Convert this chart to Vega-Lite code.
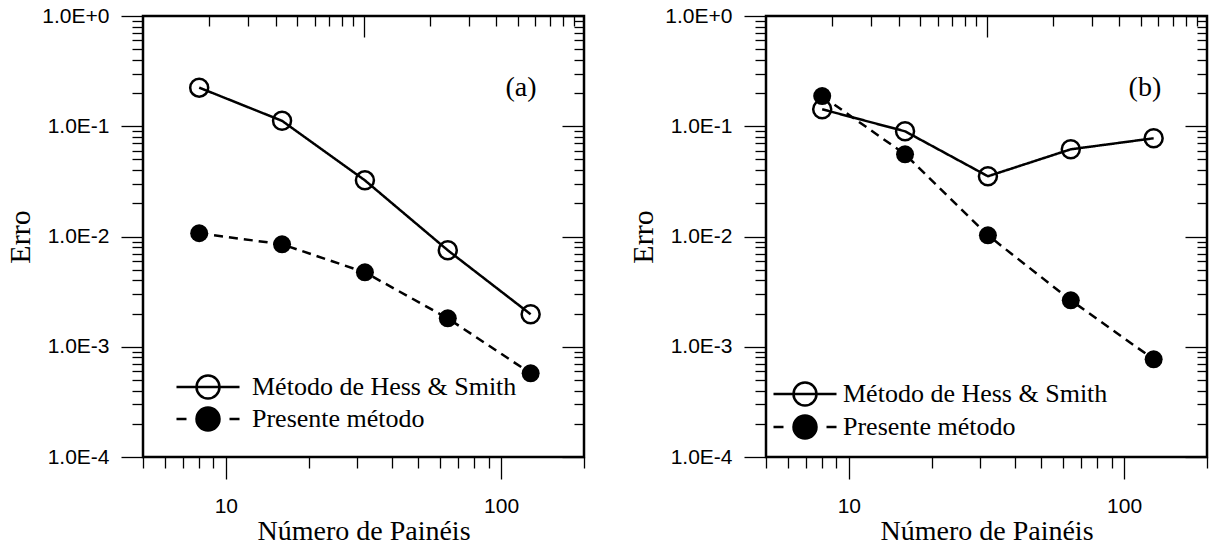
{
  "$schema": "https://vega.github.io/schema/vega-lite/v6.json",
  "padding": {"left": 4, "top": 3, "right": 2, "bottom": 0},
  "config": {
    "view": {"stroke": "black", "strokeWidth": 2.5},
    "axis": {"domain": false, "grid": false, "tickColor": "black", "tickWidth": 1.3, "labelFont": "Liberation Sans", "labelFontSize": 21, "labelColor": "black", "titleFont": "Liberation Serif", "titleFontWeight": "normal", "titleColor": "black"},
    "concat": {"spacing": 41}
  },
  "resolve": {"scale": {"fill": "independent", "shape": "independent", "strokeDash": "independent"}, "legend": {"fill": "independent", "shape": "independent"}},
  "hconcat": [
    {
      "width": 441, "height": 441,
      "data": {"values": [
        {"n": 8, "erro": 0.224, "serie": "Método de Hess & Smith"},
        {"n": 16, "erro": 0.112, "serie": "Método de Hess & Smith"},
        {"n": 32, "erro": 0.0323, "serie": "Método de Hess & Smith"},
        {"n": 64, "erro": 0.0075, "serie": "Método de Hess & Smith"},
        {"n": 128, "erro": 0.00197, "serie": "Método de Hess & Smith"},
        {"n": 8, "erro": 0.0107, "serie": "Presente método"},
        {"n": 16, "erro": 0.0085, "serie": "Presente método"},
        {"n": 32, "erro": 0.00473, "serie": "Presente método"},
        {"n": 64, "erro": 0.00181, "serie": "Presente método"},
        {"n": 128, "erro": 0.000574, "serie": "Presente método"}
      ]},
      "resolve": {"scale": {"x": "independent", "y": "shared"}, "axis": {"x": "independent", "y": "independent"}},
      "layer": [
        {
          "mark": {"type": "line", "color": "black", "strokeWidth": 2.5},
          "encoding": {
            "x": {"field": "n", "type": "quantitative", "scale": {"type": "log", "domain": [5, 200]}, "axis": {"orient": "bottom", "values": [10, 100], "format": "d", "tickSize": 22, "labelPadding": 16, "title": "Número de Painéis", "titleFontSize": 28, "titlePadding": 1}},
            "y": {"field": "erro", "type": "quantitative", "scale": {"type": "log", "domain": [0.0001, 1]}, "axis": {"orient": "left", "values": [0.0001, 0.001, 0.01, 0.1, 1], "labelExpr": "upper(format(datum.value, '.1e'))", "tickSize": 22, "labelPadding": 12, "title": "Erro", "titleFontSize": 30, "titlePadding": 6}},
            "strokeDash": {"field": "serie", "type": "nominal", "scale": {"domain": ["Presente método", "Método de Hess & Smith"], "range": [[9, 6], [1, 0]]}, "legend": null}
          }
        },
        {
          "transform": [{"filter": "datum.serie === 'Método de Hess & Smith'"}],
          "mark": {"type": "point", "filled": false, "size": 324, "color": "black", "strokeWidth": 2.5, "opacity": 1},
          "encoding": {
            "x": {"field": "n", "type": "quantitative", "scale": {"type": "log", "domain": [5, 200]}, "axis": {"orient": "bottom", "values": [5, 6, 7, 8, 9, 20, 30, 40, 50, 60, 70, 80, 90, 200], "tickSize": 11, "labels": false, "title": null}},
            "y": {"field": "erro", "type": "quantitative", "scale": {"type": "log", "domain": [0.0001, 1]}, "axis": {"orient": "left", "values": [0.0002, 0.0003, 0.0004, 0.0005, 0.0006, 0.0007, 0.0008, 0.0009, 0.002, 0.003, 0.004, 0.005, 0.006, 0.007, 0.008, 0.009, 0.02, 0.03, 0.04, 0.05, 0.06, 0.07, 0.08, 0.09, 0.2, 0.3, 0.4, 0.5, 0.6, 0.7, 0.8, 0.9], "tickSize": 11, "labels": false, "title": null}}
          }
        },
        {
          "transform": [{"filter": "datum.serie === 'Presente método'"}],
          "mark": {"type": "point", "filled": true, "size": 324, "color": "black", "opacity": 1},
          "encoding": {
            "x": {"field": "n", "type": "quantitative", "scale": {"type": "log", "domain": [5, 200]}, "axis": null},
            "y": {"field": "erro", "type": "quantitative", "scale": {"type": "log", "domain": [0.0001, 1]}, "axis": null}
          }
        },
        {
          "mark": {"type": "point", "filled": true, "size": 324, "stroke": "black", "strokeWidth": 2.5, "opacity": 0},
          "encoding": {
            "x": {"field": "n", "type": "quantitative", "scale": {"type": "log", "domain": [5, 200]}, "axis": null},
            "y": {"field": "erro", "type": "quantitative", "scale": {"type": "log", "domain": [0.0001, 1]}, "axis": null},
            "fill": {"field": "serie", "type": "nominal", "scale": {"domain": ["Método de Hess & Smith", "Presente método"], "range": ["transparent", "black"]}, "legend": {
              "orient": "none", "legendX": 52, "legendY": 358, "title": null, "symbolSize": 529, "symbolStrokeWidth": 2.5, "symbolOpacity": 1, "labelFont": "Liberation Serif", "labelFontSize": 26, "labelColor": "black", "labelLimit": 500, "labelOffset": 31, "rowPadding": -2, "padding": 0}},
            "shape": {"field": "serie", "type": "nominal", "scale": {"domain": ["Método de Hess & Smith", "Presente método"], "range": ["M -2.74 0 H 2.74 M -1 0 A 1 1 0 1 0 1 0 A 1 1 0 1 0 -1 0 Z", "M -2.74 0 H -1.87 M 1.87 0 H 2.74 M -1 0 A 1 1 0 1 0 1 0 A 1 1 0 1 0 -1 0 Z"]}, "legend": {
              "orient": "none", "legendX": 52, "legendY": 358, "title": null, "symbolSize": 529, "symbolStrokeWidth": 2.5, "symbolOpacity": 1, "labelFont": "Liberation Serif", "labelFontSize": 26, "labelColor": "black", "labelLimit": 500, "labelOffset": 31, "rowPadding": -2, "padding": 0}}
          }
        },
        {
          "mark": {"type": "point", "opacity": 0, "clip": true},
          "encoding": {
            "x": {"field": "n", "type": "quantitative", "scale": {"type": "log", "domain": [1, 100]}, "axis": {"orient": "top", "values": [10], "tickSize": -21, "labels": false, "title": null}},
            "y": {"field": "erro", "type": "quantitative", "scale": {"type": "log", "domain": [0.0001, 1]}, "axis": {"orient": "right", "values": [0.0001, 0.001, 0.01, 0.1, 1], "tickSize": -22, "labels": false, "title": null}}
          }
        },
        {
          "mark": {"type": "point", "opacity": 0, "clip": true},
          "encoding": {
            "x": {"field": "n", "type": "quantitative", "scale": {"type": "log", "domain": [1, 100]}, "axis": {"orient": "top", "values": [2, 3, 4, 5, 6, 7, 8, 9, 20, 30, 40, 50, 60, 70, 80, 90], "tickSize": -10, "labels": false, "title": null}},
            "y": {"field": "erro", "type": "quantitative", "scale": {"type": "log", "domain": [0.0001, 1]}, "axis": {"orient": "right", "values": [0.0002, 0.0003, 0.0004, 0.0005, 0.0006, 0.0007, 0.0008, 0.0009, 0.002, 0.003, 0.004, 0.005, 0.006, 0.007, 0.008, 0.009, 0.02, 0.03, 0.04, 0.05, 0.06, 0.07, 0.08, 0.09, 0.2, 0.3, 0.4, 0.5, 0.6, 0.7, 0.8, 0.9], "tickSize": -10, "labels": false, "title": null}}
          }
        },
        {
          "data": {"values": [{"tx": 118, "ty": 0.223, "label": "(a)"}]},
          "mark": {"type": "text", "font": "Liberation Serif", "fontSize": 28, "color": "black", "align": "center", "baseline": "middle"},
          "encoding": {
            "x": {"field": "tx", "type": "quantitative", "scale": {"type": "log", "domain": [5, 200]}, "axis": null},
            "y": {"field": "ty", "type": "quantitative", "scale": {"type": "log", "domain": [0.0001, 1]}, "axis": null},
            "text": {"field": "label"}
          }
        }
      ]
    },
    {
      "width": 441, "height": 441,
      "data": {"values": [
        {"n": 8, "erro": 0.1425, "serie": "Método de Hess & Smith"},
        {"n": 16, "erro": 0.090, "serie": "Método de Hess & Smith"},
        {"n": 32, "erro": 0.0352, "serie": "Método de Hess & Smith"},
        {"n": 64, "erro": 0.0618, "serie": "Método de Hess & Smith"},
        {"n": 128, "erro": 0.0778, "serie": "Método de Hess & Smith"},
        {"n": 8, "erro": 0.188, "serie": "Presente método"},
        {"n": 16, "erro": 0.0557, "serie": "Presente método"},
        {"n": 32, "erro": 0.01026, "serie": "Presente método"},
        {"n": 64, "erro": 0.00264, "serie": "Presente método"},
        {"n": 128, "erro": 0.00077, "serie": "Presente método"}
      ]},
      "resolve": {"scale": {"x": "independent", "y": "shared"}, "axis": {"x": "independent", "y": "independent"}},
      "layer": [
        {
          "mark": {"type": "line", "color": "black", "strokeWidth": 2.5},
          "encoding": {
            "x": {"field": "n", "type": "quantitative", "scale": {"type": "log", "domain": [5, 200]}, "axis": {"orient": "bottom", "values": [10, 100], "format": "d", "tickSize": 22, "labelPadding": 16, "title": "Número de Painéis", "titleFontSize": 28, "titlePadding": 1}},
            "y": {"field": "erro", "type": "quantitative", "scale": {"type": "log", "domain": [0.0001, 1]}, "axis": {"orient": "left", "values": [0.0001, 0.001, 0.01, 0.1, 1], "labelExpr": "upper(format(datum.value, '.1e'))", "tickSize": 22, "labelPadding": 12, "title": "Erro", "titleFontSize": 30, "titlePadding": 6}},
            "strokeDash": {"field": "serie", "type": "nominal", "scale": {"domain": ["Presente método", "Método de Hess & Smith"], "range": [[9, 6], [1, 0]]}, "legend": null}
          }
        },
        {
          "transform": [{"filter": "datum.serie === 'Método de Hess & Smith'"}],
          "mark": {"type": "point", "filled": false, "size": 324, "color": "black", "strokeWidth": 2.5, "opacity": 1},
          "encoding": {
            "x": {"field": "n", "type": "quantitative", "scale": {"type": "log", "domain": [5, 200]}, "axis": {"orient": "bottom", "values": [5, 6, 7, 8, 9, 20, 30, 40, 50, 60, 70, 80, 90, 200], "tickSize": 11, "labels": false, "title": null}},
            "y": {"field": "erro", "type": "quantitative", "scale": {"type": "log", "domain": [0.0001, 1]}, "axis": {"orient": "left", "values": [0.0002, 0.0003, 0.0004, 0.0005, 0.0006, 0.0007, 0.0008, 0.0009, 0.002, 0.003, 0.004, 0.005, 0.006, 0.007, 0.008, 0.009, 0.02, 0.03, 0.04, 0.05, 0.06, 0.07, 0.08, 0.09, 0.2, 0.3, 0.4, 0.5, 0.6, 0.7, 0.8, 0.9], "tickSize": 11, "labels": false, "title": null}}
          }
        },
        {
          "transform": [{"filter": "datum.serie === 'Presente método'"}],
          "mark": {"type": "point", "filled": true, "size": 324, "color": "black", "opacity": 1},
          "encoding": {
            "x": {"field": "n", "type": "quantitative", "scale": {"type": "log", "domain": [5, 200]}, "axis": null},
            "y": {"field": "erro", "type": "quantitative", "scale": {"type": "log", "domain": [0.0001, 1]}, "axis": null}
          }
        },
        {
          "mark": {"type": "point", "filled": true, "size": 324, "stroke": "black", "strokeWidth": 2.5, "opacity": 0},
          "encoding": {
            "x": {"field": "n", "type": "quantitative", "scale": {"type": "log", "domain": [5, 200]}, "axis": null},
            "y": {"field": "erro", "type": "quantitative", "scale": {"type": "log", "domain": [0.0001, 1]}, "axis": null},
            "fill": {"field": "serie", "type": "nominal", "scale": {"domain": ["Método de Hess & Smith", "Presente método"], "range": ["transparent", "black"]}, "legend": {
              "orient": "none", "legendX": 26, "legendY": 365, "title": null, "symbolSize": 529, "symbolStrokeWidth": 2.5, "symbolOpacity": 1, "labelFont": "Liberation Serif", "labelFontSize": 26, "labelColor": "black", "labelLimit": 500, "labelOffset": 25, "rowPadding": -1, "padding": 0}},
            "shape": {"field": "serie", "type": "nominal", "scale": {"domain": ["Método de Hess & Smith", "Presente método"], "range": ["M -2.74 0 H 2.74 M -1 0 A 1 1 0 1 0 1 0 A 1 1 0 1 0 -1 0 Z", "M -2.74 0 H -1.87 M 1.87 0 H 2.74 M -1 0 A 1 1 0 1 0 1 0 A 1 1 0 1 0 -1 0 Z"]}, "legend": {
              "orient": "none", "legendX": 26, "legendY": 365, "title": null, "symbolSize": 529, "symbolStrokeWidth": 2.5, "symbolOpacity": 1, "labelFont": "Liberation Serif", "labelFontSize": 26, "labelColor": "black", "labelLimit": 500, "labelOffset": 25, "rowPadding": -1, "padding": 0}}
          }
        },
        {
          "mark": {"type": "point", "opacity": 0, "clip": true},
          "encoding": {
            "x": {"field": "n", "type": "quantitative", "scale": {"type": "log", "domain": [1, 100]}, "axis": {"orient": "top", "values": [10], "tickSize": -21, "labels": false, "title": null}},
            "y": {"field": "erro", "type": "quantitative", "scale": {"type": "log", "domain": [0.0001, 1]}, "axis": {"orient": "right", "values": [0.0001, 0.001, 0.01, 0.1, 1], "tickSize": -22, "labels": false, "title": null}}
          }
        },
        {
          "mark": {"type": "point", "opacity": 0, "clip": true},
          "encoding": {
            "x": {"field": "n", "type": "quantitative", "scale": {"type": "log", "domain": [1, 100]}, "axis": {"orient": "top", "values": [2, 3, 4, 5, 6, 7, 8, 9, 20, 30, 40, 50, 60, 70, 80, 90], "tickSize": -10, "labels": false, "title": null}},
            "y": {"field": "erro", "type": "quantitative", "scale": {"type": "log", "domain": [0.0001, 1]}, "axis": {"orient": "right", "values": [0.0002, 0.0003, 0.0004, 0.0005, 0.0006, 0.0007, 0.0008, 0.0009, 0.002, 0.003, 0.004, 0.005, 0.006, 0.007, 0.008, 0.009, 0.02, 0.03, 0.04, 0.05, 0.06, 0.07, 0.08, 0.09, 0.2, 0.3, 0.4, 0.5, 0.6, 0.7, 0.8, 0.9], "tickSize": -10, "labels": false, "title": null}}
          }
        },
        {
          "data": {"values": [{"tx": 119, "ty": 0.223, "label": "(b)"}]},
          "mark": {"type": "text", "font": "Liberation Serif", "fontSize": 28, "color": "black", "align": "center", "baseline": "middle"},
          "encoding": {
            "x": {"field": "tx", "type": "quantitative", "scale": {"type": "log", "domain": [5, 200]}, "axis": null},
            "y": {"field": "ty", "type": "quantitative", "scale": {"type": "log", "domain": [0.0001, 1]}, "axis": null},
            "text": {"field": "label"}
          }
        }
      ]
    }
  ]
}
